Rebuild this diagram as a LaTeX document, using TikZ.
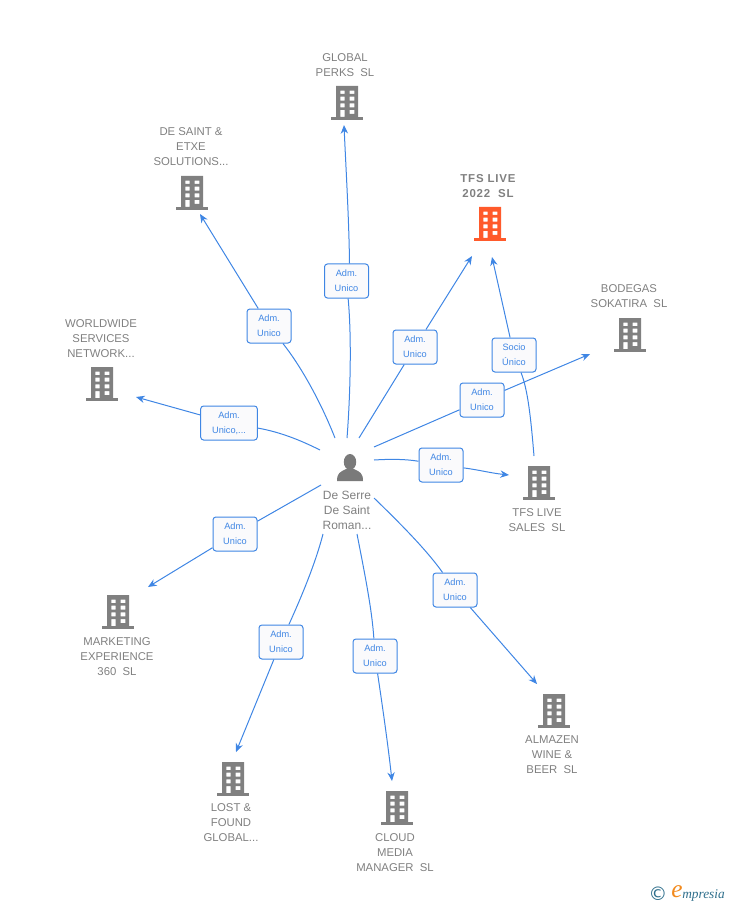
\documentclass[tikz,border=0pt]{standalone}
\usepackage{fontspec}
\setmainfont{Liberation Sans}
\newfontfamily\logofont{Liberation Serif}
\newfontfamily\symfont{DejaVu Sans}
\usetikzlibrary{arrows.meta}
\definecolor{linkblue}{HTML}{3F86E4}
\definecolor{namegray}{HTML}{808080}
\definecolor{iconorange}{HTML}{FF5A2B}
\definecolor{logoteal}{HTML}{2F6F8C}
\definecolor{logoorange}{HTML}{F28A1E}
\definecolor{admfill}{HTML}{FAFAFC}
\tikzset{
    link/.style={draw=linkblue, line width=0.75pt},
    arrowlink/.style={link, -{Stealth[length=6.5pt,width=5.5pt]}},
    adm/.style={draw=linkblue, line width=0.75pt, fill=admfill, rounded corners=2.2pt, minimum width=33pt, minimum height=25.5pt, inner sep=0pt, align=center, text=linkblue, font=\fontsize{6.9}{11.25}\selectfont},
    orgname/.style={inner sep=0pt, align=center, text=namegray, font=\fontsize{8.5}{11.25}\selectfont},
    mainname/.style={orgname, font=\fontsize{8.6}{11.25}\selectfont\bfseries\addfontfeatures{LetterSpace=7}},
    personname/.style={orgname, font=\fontsize{9}{11.25}\selectfont},
}
% building icon: centre x, top y, colour
\newcommand{\building}[3]{
    \fill[#3, even odd rule] (#1-11,#2) rectangle (#1+11,#2+31)
        (#1-6.7,#2+4.7) rectangle (#1-2.3,#2+8)
        (#1+2.7,#2+4.7) rectangle (#1+7.3,#2+8)
        (#1-6.7,#2+10.7) rectangle (#1-2.3,#2+14.7)
        (#1+2.7,#2+10.7) rectangle (#1+7.3,#2+14.7)
        (#1-6.7,#2+17.3) rectangle (#1-2.3,#2+21.3)
        (#1+2.7,#2+17.3) rectangle (#1+7.3,#2+21.3)
        (#1-6.7,#2+24) rectangle (#1-2.3,#2+31)
        (#1+2.7,#2+24) rectangle (#1+7.3,#2+28);
    \fill[#3] (#1-16,#2+31) rectangle (#1+16,#2+34);
}
\begin{document}
\begin{tikzpicture}[x=0.75pt,y=-0.75pt]
    \useasboundingbox (0,0) rectangle (728,905);

    % buildings
    \building{347}{86}{namegray}
    \building{192}{176}{namegray}
    \building{490}{207}{iconorange}
    \building{630}{318}{namegray}
    \building{102}{367}{namegray}
    \building{539}{466}{namegray}
    \building{118}{595}{namegray}
    \building{233}{762}{namegray}
    \building{397}{791}{namegray}
    \building{554}{694}{namegray}

    % person
    \fill[namegray!95!black] (350,462) ellipse (6.2 and 8);
    \fill[namegray!95!black] (337,481) .. controls (337,473) and (340,472) .. (346,469) -- (354,469) .. controls (360,472) and (363,473) .. (363,481) -- cycle;

    % names
    \node[orgname] (perks) at (345,65) {GLOBAL\\PERKS\ \ SL};
    \node[orgname] (etxe) at (191,147) {DE SAINT \&\\ETXE\\SOLUTIONS...};
    \node[mainname] (live) at (488,186) {TFS LIVE\\2022\ \ SL};
    \node[orgname] (sokatira) at (629,296) {BODEGAS\\SOKATIRA\ \ SL};
    \node[orgname] (network) at (101,339) {WORLDWIDE\\SERVICES\\NETWORK...};
    \node[orgname] (sales) at (537,520) {TFS LIVE\\SALES\ \ SL};
    \node[orgname] (experience) at (117,657) {MARKETING\\EXPERIENCE\\360\ \ SL};
    \node[orgname] (found) at (231,823) {LOST \&\\FOUND\\GLOBAL...};
    \node[orgname] (cloud) at (395,853) {CLOUD\\MEDIA\\MANAGER\ \ SL};
    \node[orgname] (wine) at (552,755) {ALMAZEN\\WINE \&\\BEER\ \ SL};
    \node[personname] (roman) at (347,510) {De Serre\\De Saint\\Roman...};

    % labels on the links
    \node[adm] (admPerks) at (346.5,281) {Adm.\\Unico};
    \node[adm] (admEtxe) at (269,326) {Adm.\\Unico};
    \node[adm] (admLive) at (415,347) {Adm.\\Unico};
    \node[adm] (admSocio) at (514,355) {Socio\\Único};
    \node[adm] (admSokatira) at (482,400) {Adm.\\Unico};
    \node[adm] (admSales) at (441,465) {Adm.\\Unico};
    \node[adm, minimum width=42.5pt] (admNetwork) at (229,423) {Adm.\\Unico,...};
    \node[adm] (admExperience) at (235,534) {Adm.\\Unico};
    \node[adm] (admWine) at (455,590) {Adm.\\Unico};
    \node[adm] (admFound) at (281,642) {Adm.\\Unico};
    \node[adm] (admCloud) at (375,656) {Adm.\\Unico};

    % free ends of the links
    \coordinate (fromPerks) at (347,438);
    \coordinate (fromEtxe) at (335,438);
    \coordinate (fromLive) at (359,438);
    \coordinate (fromSocio) at (534,456);
    \coordinate (fromSokatira) at (374,447);
    \coordinate (fromSales) at (374,460);
    \coordinate (fromNetwork) at (320,450);
    \coordinate (fromExperience) at (321,485);
    \coordinate (fromWine) at (374,498);
    \coordinate (fromFound) at (323,534);
    \coordinate (fromCloud) at (357,534);
    \coordinate (toPerks) at (344,125);
    \coordinate (toEtxe) at (200,214);
    \coordinate (toLive) at (472,256);
    \coordinate (toSocio) at (492,257);
    \coordinate (toSokatira) at (590,354);
    \coordinate (toSales) at (509,475);
    \coordinate (toNetwork) at (136,397);
    \coordinate (toExperience) at (148,587);
    \coordinate (toWine) at (537,684);
    \coordinate (toFound) at (236,752);
    \coordinate (toCloud) at (392,781);

    % links
    \draw[link] (fromPerks) .. controls (350,400) and (352,340) .. (admPerks);
    \draw[arrowlink] (admPerks.north) ++(3,0) .. controls (349,220) and (346,170) .. (toPerks);
    \draw[link] (fromEtxe) .. controls (320,400) and (300,365) .. (admEtxe);
    \draw[arrowlink] (admEtxe) -- (toEtxe);
    \draw[link] (fromLive) -- (admLive);
    \draw[arrowlink] (admLive) -- (toLive);
    \draw[link] (fromSocio) .. controls (531,420) and (528,390) .. (admSocio);
    \draw[arrowlink] (admSocio) -- (toSocio);
    \draw[link] (fromSokatira) -- (admSokatira);
    \draw[arrowlink] (admSokatira) -- (toSokatira);
    \draw[link] (fromSales) .. controls (390,459) and (405,459) .. (admSales);
    \draw[arrowlink] (admSales) .. controls (480,470) and (490,473) .. (toSales);
    \draw[link] (fromNetwork) .. controls (300,440) and (280,432) .. (admNetwork);
    \draw[arrowlink] (admNetwork) -- (toNetwork);
    \draw[link] (fromExperience) -- (admExperience);
    \draw[arrowlink] (admExperience) -- (toExperience);
    \draw[link] (fromWine) .. controls (405,528) and (428,552) .. (admWine);
    \draw[arrowlink] (admWine) -- (toWine);
    \draw[link] (fromFound) .. controls (315,565) and (300,600) .. (admFound);
    \draw[arrowlink] (admFound) -- (toFound);
    \draw[link] (fromCloud) .. controls (365,575) and (372,610) .. (admCloud);
    \draw[arrowlink] (admCloud) .. controls (383,710) and (388,745) .. (toCloud);

    % logo
    \node[inner sep=0pt, text=logoteal, font=\symfont\fontsize{14}{14}\selectfont] (copyr) at (658,894) {©};
    \node[inner sep=0pt, text=logoorange, font=\logofont\itshape\fontsize{19}{19}\selectfont] (logoe) at (677,892) {e};
    \node[inner sep=0pt, anchor=west, text=logoteal, font=\logofont\itshape\fontsize{10}{10}\selectfont] (logotext) at (682,895) {mpresia};
\end{tikzpicture}
\end{document}
